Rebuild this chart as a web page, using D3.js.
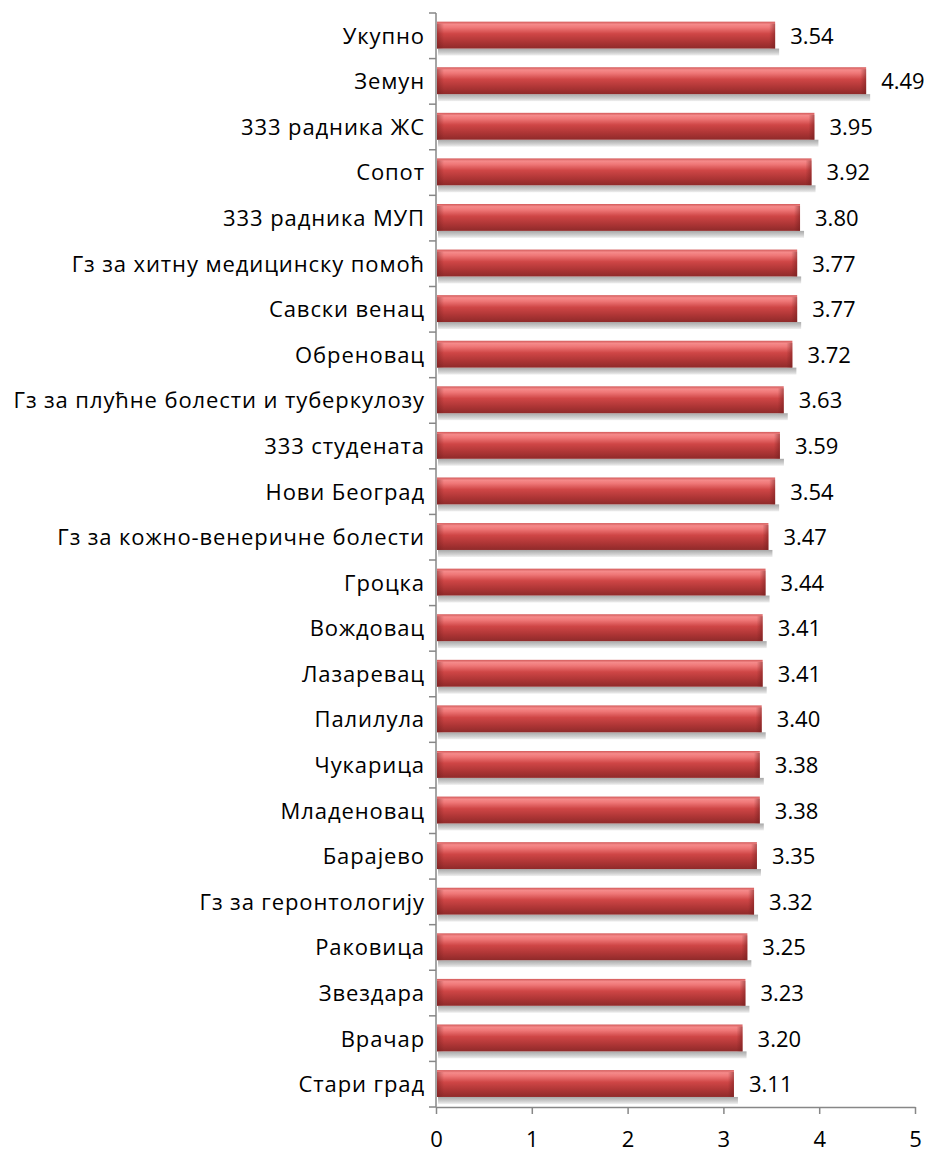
<!DOCTYPE html>
<html>
<head>
<meta charset="utf-8">
<script src="https://cdn.jsdelivr.net/npm/d3@7"></script>
<style>
  body { margin: 0; background: #fff; }
  svg text { font-family: "Open Sans", "Noto Sans", sans-serif; fill: #000; }
</style>
</head>
<body>
<div id="chart"></div>
<script>
// categories, top to bottom
var categories = ["Укупно", "Земун", "333 радника ЖС", "Сопот", "333 радника МУП",
  "Гз за хитну медицинску помоћ", "Савски венац", "Обреновац",
  "Гз за плућне болести и туберкулозу", "333 студената", "Нови Београд",
  "Гз за кожно-венеричне болести", "Гроцка", "Вождовац", "Лазаревац", "Палилула",
  "Чукарица", "Младеновац", "Барајево", "Гз за геронтологију", "Раковица",
  "Звездара", "Врачар", "Стари град"];
var values = [3.54, 4.49, 3.95, 3.92, 3.80, 3.77, 3.77, 3.72, 3.63, 3.59, 3.54, 3.47,
  3.44, 3.41, 3.41, 3.40, 3.38, 3.38, 3.35, 3.32, 3.25, 3.23, 3.20, 3.11];
var xTicks = [0, 1, 2, 3, 4, 5];

var data = categories.map(function(c, i) { return {name: c, value: values[i]}; });

var margin = {top: 13, right: 18, bottom: 45, left: 436};
var width = 933 - margin.left - margin.right;
var height = 1152 - margin.top - margin.bottom;
var fontSize = "22px";
var axisColor = "#878787";

var svg = d3.select("#chart")
            .append("svg")
            .attr("width", 933)
            .attr("height", 1152);

var defs = svg.append("defs");
var grad = defs.append("linearGradient")
  .attr("id", "barGrad").attr("x1", 0).attr("y1", 0).attr("x2", 0).attr("y2", 1);
grad.append("stop").attr("offset", "0%").attr("stop-color", "#d25a5a");
grad.append("stop").attr("offset", "10%").attr("stop-color", "#f58a8a");
grad.append("stop").attr("offset", "22%").attr("stop-color", "#ef7777");
grad.append("stop").attr("offset", "45%").attr("stop-color", "#cf4646");
grad.append("stop").attr("offset", "75%").attr("stop-color", "#ad3535");
grad.append("stop").attr("offset", "100%").attr("stop-color", "#8f2a2a");

var endGrad = defs.append("linearGradient")
  .attr("id", "endGrad").attr("x1", 0).attr("y1", 0).attr("x2", 1).attr("y2", 0);
endGrad.append("stop").attr("offset", "0%").attr("stop-color", "#6e1c1c").attr("stop-opacity", 0);
endGrad.append("stop").attr("offset", "100%").attr("stop-color", "#6e1c1c").attr("stop-opacity", 0.5);

var startGrad = defs.append("linearGradient")
  .attr("id", "startGrad").attr("x1", 0).attr("y1", 0).attr("x2", 1).attr("y2", 0);
startGrad.append("stop").attr("offset", "0%").attr("stop-color", "#6e1c1c").attr("stop-opacity", 0.45);
startGrad.append("stop").attr("offset", "100%").attr("stop-color", "#6e1c1c").attr("stop-opacity", 0);

var shadowGrad = defs.append("linearGradient")
  .attr("id", "shadowGrad").attr("x1", 0).attr("y1", 0).attr("x2", 0).attr("y2", 1);
shadowGrad.append("stop").attr("offset", "0%").attr("stop-color", "#a8a8a8");
shadowGrad.append("stop").attr("offset", "60%").attr("stop-color", "#cfcfcf");
shadowGrad.append("stop").attr("offset", "100%").attr("stop-color", "#f0f0f0");

var g = svg.append("g")
  .attr("transform", "translate(" + margin.left + "," + margin.top + ")");

var x = d3.scaleLinear().domain([0, 5]).range([0, width]);
var y = d3.scaleBand().domain(categories).range([0, height]);
var step = y.bandwidth();
var barTop = step * 0.19;
var barH = step * 0.59;

// shadows
g.selectAll(".shadow")
  .data(data)
  .enter().append("rect")
  .attr("class", "shadow")
  .attr("x", 2)
  .attr("y", function(d) { return y(d.name) + barTop + barH; })
  .attr("width", function(d) { return x(d.value) + 2; })
  .attr("height", 7)
  .attr("fill", "url(#shadowGrad)");

// bars
g.selectAll(".bar")
  .data(data)
  .enter().append("rect")
  .attr("class", "bar")
  .attr("x", 1)
  .attr("y", function(d) { return y(d.name) + barTop; })
  .attr("width", function(d) { return x(d.value) - 1; })
  .attr("height", barH)
  .attr("fill", "url(#barGrad)");

// bevelled ends
g.selectAll(".barEnd")
  .data(data)
  .enter().append("rect")
  .attr("x", function(d) { return x(d.value) - 6; })
  .attr("y", function(d) { return y(d.name) + barTop + 2; })
  .attr("width", 6)
  .attr("height", barH - 2)
  .attr("fill", "url(#endGrad)");
g.selectAll(".barStart")
  .data(data)
  .enter().append("rect")
  .attr("x", 1)
  .attr("y", function(d) { return y(d.name) + barTop + 2; })
  .attr("width", 7)
  .attr("height", barH - 2)
  .attr("fill", "url(#startGrad)");

// value labels
g.selectAll(".label")
  .data(data)
  .enter().append("text")
  .attr("x", function(d) { return x(d.value) + 15; })
  .attr("y", function(d) { return y(d.name) + step / 2; })
  .attr("dy", "0.36em")
  .style("font-size", fontSize)
  .text(function(d) { return d.value.toFixed(2); });

// Y axis labels
var yAxis = g.append("g")
  .call(d3.axisLeft(y).tickSize(0).tickPadding(11));
yAxis.select(".domain").remove();
yAxis.selectAll("text")
  .style("font-size", fontSize)
  .style("letter-spacing", "0.9px")
  .attr("dy", "0.36em");

// y tick marks at band boundaries
var bounds = categories.map(function(c) { return y(c); });
bounds.push(height);
g.selectAll(".ytick")
  .data(bounds)
  .enter().append("line")
  .attr("x1", -7).attr("x2", 0)
  .attr("y1", function(d) { return d; })
  .attr("y2", function(d) { return d; })
  .attr("stroke", axisColor).attr("stroke-width", 1.5);
g.append("line")
  .attr("x1", 0).attr("x2", 0).attr("y1", 0).attr("y2", height)
  .attr("stroke", axisColor).attr("stroke-width", 1.5);

// X axis
var xAxis = g.append("g")
  .attr("transform", "translate(0," + height + ")")
  .call(d3.axisBottom(x).tickValues(xTicks).tickFormat(d3.format("d"))
    .tickSize(7).tickPadding(17).tickSizeOuter(0));
xAxis.select(".domain").attr("stroke", axisColor).attr("stroke-width", 1.5);
xAxis.selectAll(".tick line").attr("stroke", axisColor).attr("stroke-width", 1.5);
xAxis.selectAll("text").style("font-size", fontSize);
</script>
</body>
</html>
